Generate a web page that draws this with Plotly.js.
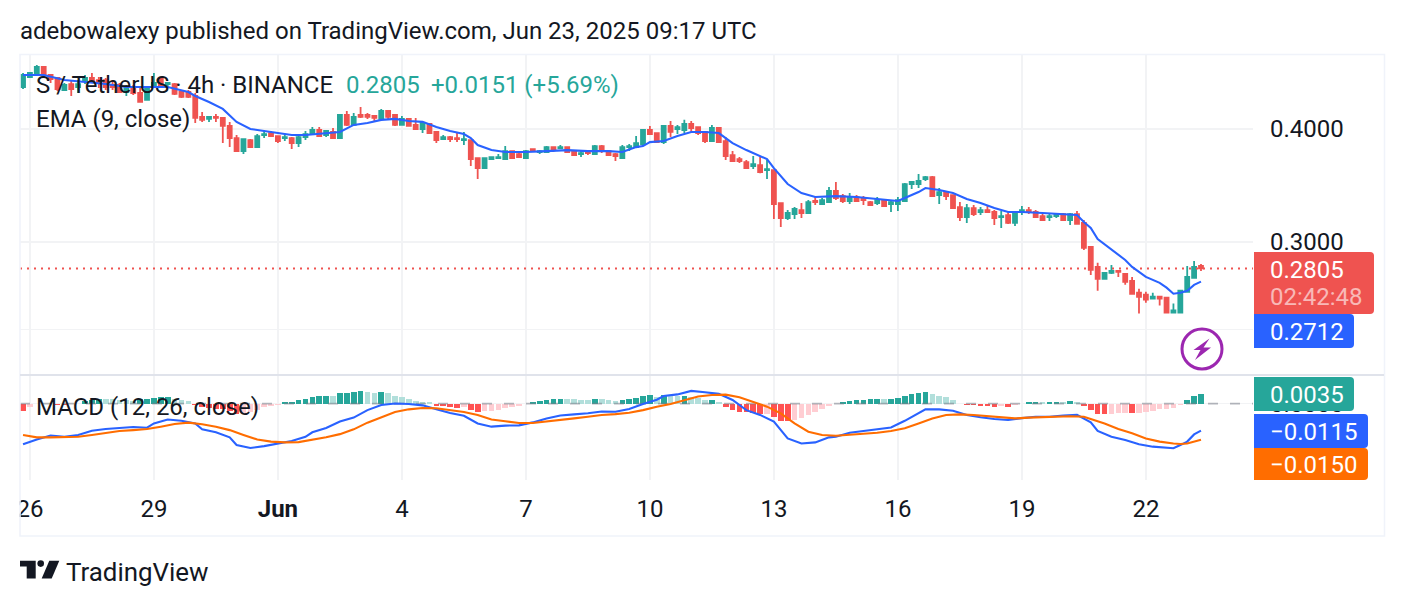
<!DOCTYPE html>
<html>
<head>
<meta charset="utf-8">
<script src="https://cdn.plot.ly/plotly-3.0.1.min.js"></script>
<style>html,body{margin:0;padding:0;background:#fff}#chart{width:1404px;height:606px}</style>
</head>
<body>
<div id="chart"></div>
<script>
const open = [.4451,.4566,.4601,.4684,.4590,.4555,.4417,.4485,.4451,.4520,.4555,.4531,.4531,.4474,.4474,.4395,.4451,.4384,.4307,.4463,.4543,.4485,.4485,.4395,.4395,.4351,.4125,.4104,.4125,.4114,.4031,.3909,.3781,.3889,.3820,.3939,.3959,.3929,.3909,.3909,.3859,.3919,.3949,.3990,.3939,.3970,.3909,.4146,.4042,.4146,.4146,.4135,.4104,.4188,.4146,.4042,.4104,.4042,.4000,.4052,.3970,.3899,.3919,.3909,.3889,.3889,.3715,.3621,.3705,.3715,.3705,.3781,.3753,.3715,.3801,.3772,.3772,.3820,.3810,.3820,.3781,.3753,.3781,.3753,.3830,.3781,.3753,.3715,.3820,.3820,.3850,.3990,.3959,.3869,.4031,.4000,.3990,.4052,.4020,.3970,.3879,.4010,.3879,.3743,.3705,.3677,.3640,.3649,.3603,.3603,.3313,.3189,.3221,.3254,.3230,.3330,.3304,.3321,.3416,.3372,.3330,.3364,.3355,.3321,.3313,.3330,.3304,.3304,.3330,.3477,.3477,.3521,.3539,.3381,.3407,.3381,.3279,.3197,.3271,.3238,.3254,.3238,.3197,.3213,.3149,.3238,.3254,.3238,.3205,.3197,.3205,.3221,.3173,.3221,.3149,.2962,.2816,.2731,.2773,.2787,.2766,.2717,.2637,.2624,.2597,.2610,.2604,.2507,.2507,.2643,.2738,.2823];
const high = [.4613,.4625,.4708,.4684,.4601,.4566,.4497,.4531,.4531,.4590,.4613,.4566,.4555,.4531,.4497,.4474,.4474,.4440,.4463,.4613,.4555,.4508,.4497,.4417,.4417,.4384,.4177,.4135,.4156,.4125,.4073,.3939,.3899,.3899,.3949,.3980,.3980,.3929,.3939,.3919,.3929,.3980,.4020,.4020,.3990,.4010,.4156,.4188,.4167,.4231,.4167,.4146,.4210,.4188,.4146,.4135,.4114,.4114,.4073,.4062,.3970,.3939,.3929,.3959,.3970,.3889,.3715,.3715,.3724,.3753,.3830,.3781,.3772,.3791,.3801,.3791,.3830,.3820,.3840,.3820,.3781,.3781,.3781,.3840,.3840,.3791,.3762,.3840,.3850,.3929,.4000,.4031,.3959,.4031,.4083,.4042,.4094,.4083,.4020,.3980,.4042,.4020,.3919,.3781,.3724,.3696,.3734,.3724,.3696,.3603,.3313,.3254,.3279,.3313,.3338,.3372,.3355,.3450,.3495,.3390,.3398,.3381,.3372,.3330,.3364,.3347,.3338,.3364,.3486,.3504,.3566,.3548,.3548,.3442,.3407,.3381,.3321,.3304,.3296,.3279,.3296,.3254,.3246,.3238,.3238,.3288,.3279,.3254,.3221,.3230,.3230,.3230,.3230,.3246,.3173,.2970,.2845,.2780,.2830,.2787,.2773,.2745,.2664,.2643,.2637,.2617,.2610,.2565,.2657,.2823,.2858,.2837];
const low = [.4429,.4555,.4590,.4566,.4497,.4406,.4406,.4351,.4384,.4485,.4497,.4440,.4417,.4417,.4384,.4351,.4362,.4285,.4307,.4440,.4440,.4440,.4362,.4329,.4329,.4062,.4073,.4073,.4073,.3859,.3820,.3781,.3753,.3810,.3820,.3909,.3919,.3859,.3879,.3801,.3820,.3889,.3939,.3919,.3919,.3899,.3909,.4031,.4031,.4114,.4104,.4083,.4104,.4104,.4031,.4042,.4031,.4000,.3959,.3959,.3859,.3889,.3869,.3869,.3840,.3640,.3521,.3612,.3705,.3715,.3705,.3705,.3715,.3715,.3781,.3753,.3772,.3772,.3810,.3772,.3743,.3724,.3743,.3753,.3762,.3734,.3686,.3715,.3781,.3820,.3850,.3939,.3869,.3850,.3919,.3949,.3959,.3970,.3939,.3859,.3879,.3869,.3696,.3686,.3668,.3612,.3612,.3575,.3521,.3181,.3117,.3173,.3181,.3189,.3230,.3296,.3304,.3321,.3338,.3313,.3304,.3330,.3296,.3288,.3296,.3279,.3238,.3246,.3330,.3433,.3442,.3504,.3372,.3304,.3338,.3263,.3165,.3149,.3205,.3213,.3230,.3133,.3109,.3141,.3125,.3213,.3221,.3197,.3173,.3165,.3189,.3165,.3133,.3141,.2940,.2759,.2650,.2731,.2766,.2745,.2690,.2630,.2501,.2571,.2591,.2552,.2501,.2507,.2507,.2643,.2738,.2787];
const close = [.4590,.4613,.4684,.4590,.4543,.4429,.4474,.4429,.4485,.4555,.4531,.4497,.4451,.4451,.4395,.4451,.4384,.4285,.4451,.4497,.4463,.4497,.4373,.4340,.4340,.4114,.4094,.4125,.4114,.4031,.3909,.3781,.3899,.3820,.3929,.3949,.3929,.3879,.3919,.3859,.3919,.3949,.3990,.3929,.3980,.3909,.4146,.4042,.4125,.4125,.4125,.4114,.4188,.4125,.4042,.4104,.4031,.4000,.4062,.3959,.3889,.3919,.3899,.3899,.3899,.3705,.3621,.3715,.3724,.3724,.3781,.3715,.3724,.3781,.3781,.3781,.3820,.3801,.3820,.3772,.3743,.3762,.3762,.3830,.3781,.3743,.3734,.3820,.3830,.3859,.3990,.3949,.3869,.4031,.3970,.4020,.4052,.4010,.3959,.3879,.4010,.3869,.3734,.3686,.3686,.3621,.3658,.3585,.3612,.3304,.3189,.3230,.3263,.3230,.3321,.3321,.3338,.3416,.3355,.3330,.3364,.3330,.3338,.3296,.3338,.3288,.3321,.3338,.3477,.3495,.3504,.3539,.3372,.3407,.3372,.3271,.3197,.3271,.3221,.3254,.3238,.3189,.3205,.3149,.3238,.3254,.3238,.3197,.3173,.3205,.3221,.3173,.3221,.3141,.2955,.2794,.2731,.2773,.2787,.2780,.2710,.2630,.2610,.2591,.2610,.2597,.2507,.2520,.2650,.2745,.2816,.2805];

const emaBars = [0,3,6,9,12,15,18,21,24,25,27,29,31,33,35,37,39,41,43,45,46,48,50,52,54,56,58,60,62,64,65,66,68,70,73,76,79,82,85,87,89,90,91,93,95,97,99,101,103,105,108,109,111,113,115,118,121,124,127,128,130,131,133,135,137,139,141,143,145,148,151,153,154,155,156,158,160,161,163,165,166,167,168,169,170,171];
const emaValues = [.4590,.4590,.4531,.4508,.4485,.4451,.4451,.4451,.4395,.4351,.4285,.4210,.4073,.4000,.3980,.3959,.3939,.3939,.3949,.3959,.3970,.4042,.4062,.4094,.4104,.4083,.4073,.4020,.3980,.3949,.3909,.3840,.3791,.3772,.3772,.3781,.3791,.3781,.3781,.3772,.3820,.3830,.3869,.3879,.3929,.3970,.3970,.3959,.3859,.3791,.3705,.3621,.3477,.3398,.3364,.3372,.3364,.3347,.3330,.3355,.3407,.3442,.3424,.3398,.3347,.3313,.3271,.3238,.3238,.3230,.3221,.3213,.3157,.3109,.3023,.2940,.2866,.2816,.2745,.2704,.2671,.2630,.2637,.2650,.2690,.2712];

const macdBars = [0,2,4,6,8,10,12,14,16,18,19,21,23,25,26,28,30,31,33,35,37,39,41,42,44,46,48,50,52,54,56,58,60,62,64,66,68,70,72,74,76,78,80,82,84,86,88,90,92,93,95,97,99,101,103,105,107,109,111,113,115,117,118,120,122,124,126,128,130,131,133,135,137,139,141,143,145,147,149,151,153,155,156,158,160,162,164,166,167,168,169,170,171];
const macdValues = [-.0166,-.0148,-.0133,-.0138,-.0131,-.0115,-.0109,-.0105,-.0101,-.0104,-.0088,-.0073,-.0078,-.0088,-.0110,-.0121,-.0140,-.0169,-.0180,-.0173,-.0163,-.0154,-.0138,-.0121,-.0105,-.0081,-.0066,-.0038,-.0019,-.0013,-.0015,-.0020,-.0035,-.0049,-.0059,-.0088,-.0100,-.0096,-.0095,-.0084,-.0069,-.0058,-.0054,-.0050,-.0043,-.0044,-.0034,-.0015,.0001,.0015,.0021,.0034,.0029,.0023,0,-.0038,-.0056,-.0081,-.0144,-.0163,-.0159,-.0140,-.0138,-.0123,-.0116,-.0110,-.0103,-.0078,-.0050,-.0035,-.0035,-.0040,-.0056,-.0065,-.0071,-.0075,-.0068,-.0063,-.0063,-.0058,-.0056,-.0084,-.0116,-.0138,-.0150,-.0166,-.0175,-.0178,-.0181,-.0169,-.0156,-.0129,-.0115];

const signalBars = [0,2,4,6,8,10,12,14,16,18,20,22,24,26,28,30,32,34,36,38,40,42,44,46,48,50,52,54,56,58,60,62,64,66,68,70,72,74,76,78,80,82,84,86,88,90,92,94,96,98,100,102,104,106,108,110,112,114,116,118,120,122,124,126,128,130,132,134,136,138,140,142,144,146,148,150,152,154,155,157,159,161,163,165,167,168,169,170,171];
const signalValues = [-.0131,-.0140,-.0140,-.0140,-.0138,-.0131,-.0123,-.0116,-.0113,-.0109,-.0100,-.0090,-.0085,-.0091,-.0100,-.0113,-.0131,-.0148,-.0156,-.0159,-.0158,-.0150,-.0140,-.0128,-.0110,-.0085,-.0065,-.0045,-.0035,-.0030,-.0031,-.0038,-.0045,-.0056,-.0073,-.0080,-.0086,-.0086,-.0081,-.0075,-.0069,-.0063,-.0056,-.0053,-.0048,-.0038,-.0025,-.0015,0,.0013,.0019,.0020,.0010,-.0008,-.0025,-.0050,-.0088,-.0119,-.0131,-.0134,-.0131,-.0128,-.0123,-.0116,-.0106,-.0088,-.0069,-.0056,-.0054,-.0056,-.0060,-.0066,-.0069,-.0066,-.0065,-.0063,-.0061,-.0063,-.0071,-.0088,-.0109,-.0125,-.0144,-.0156,-.0163,-.0165,-.0163,-.0156,-.0149];

const histValues = [-.00248,-.00130,-.00024,-.00012,-.00006,-.00035,-.00047,-.00024,-.00012,.00106,
.00142,.00177,.00165,.00153,.00130,.00118,.00106,.00153,.00177,.00189,
.00224,.00248,.00153,.00142,.00094,-.00035,-.00130,-.00165,-.00177,-.00201,
-.00248,-.00378,-.00366,-.00283,-.00224,-.00130,-.00083,-.00047,.00047,.00071,
.00142,.00165,.00224,.00260,.00283,.00271,.00366,.00378,.00413,.00448,
.00413,.00389,.00413,.00366,.00283,.00248,.00165,.00094,.00071,.00047,
-.00083,-.00094,-.00118,-.00153,-.00106,-.00236,-.00283,-.00271,-.00260,-.00224,
-.00142,-.00106,-.00071,-.00024,.00059,.00094,.00130,.00165,.00177,.00165,
.00153,.00130,.00118,.00165,.00153,.00130,.00094,.00130,.00165,.00201,
.00271,.00307,.00236,.00295,.00271,.00260,.00283,.00224,.00212,.00130,
.00142,.00059,-.00106,-.00224,-.00283,-.00295,-.00342,-.00366,-.00354,-.00460,
-.00602,-.00614,-.00578,-.00496,-.00389,-.00283,-.00189,-.00083,0,.00059,
.00094,.00130,.00142,.00153,.00165,.00153,.00177,.00201,.00271,.00342,
.00378,.00413,.00342,.00271,.00236,.00130,-.00024,-.00047,-.00059,-.00083,
-.00094,-.00106,-.00083,-.00106,-.00047,-.00024,.00059,.00071,.00047,.00059,
.00071,.00047,.00094,.00059,-.00083,-.00224,-.00366,-.00378,-.00366,-.00330,
-.00319,-.00330,-.00319,-.00295,-.00260,-.00189,-.00177,-.00165,-.00047,.00130,
.00271,.00350];

const tickBars = [1,19,37,55,73,91,109,127,145,163];
const tickLabels = ['26','29','<b>Jun</b>','4','7','10','13','16','19','22'];
const priceTicks = [0.24,0.3,0.4];
const priceTickLabels = ['0.2400','0.3000','0.4000'];
const lastPrice = 0.2805;

const W = 1404, H = 606;
const px = x => x / W, py = y => 1 - y / H;
const F = 'Roboto, sans-serif', FS = 24, INK = '#131722';
const bars = open.map((_, i) => i);
const xRange = [-0.44, 178.55];

const histColors = histValues.map((v, i) => {
  const p = i ? histValues[i - 1] : 0;
  if (v >= 0) return v > p ? '#26a69a' : '#b2dfdb';
  return v < p ? '#ff5252' : '#ffcdd2';
});

const traces = [
  {type:'candlestick', x:bars, open, high, low, close, xaxis:'x', yaxis:'y',
   increasing:{line:{color:'#26a69a',width:1.8},fillcolor:'#26a69a'},
   decreasing:{line:{color:'#ef5350',width:1.8},fillcolor:'#ef5350'},
   whiskerwidth:0, hoverinfo:'skip', showlegend:false},
  {type:'scatter', mode:'lines', x:xRange, y:[lastPrice,lastPrice], xaxis:'x', yaxis:'y',
   line:{color:'#ef5350',width:2,dash:'2px,5px'}, hoverinfo:'skip', showlegend:false},
  {type:'scatter', mode:'lines', x:emaBars, y:emaValues, xaxis:'x', yaxis:'y',
   line:{color:'#2962ff',width:2.1}, hoverinfo:'skip', showlegend:false},
  {type:'bar', x:bars, y:histValues, xaxis:'x2', yaxis:'y2', width:0.82,
   marker:{color:histColors,line:{width:0}}, hoverinfo:'skip', showlegend:false},
  {type:'scatter', mode:'lines', x:xRange, y:[0,0], xaxis:'x2', yaxis:'y2',
   line:{color:'rgba(120,123,134,0.55)',width:1.6,dash:'10px,12px'}, hoverinfo:'skip', showlegend:false},
  {type:'scatter', mode:'lines', x:macdBars, y:macdValues, xaxis:'x2', yaxis:'y3',
   line:{color:'#2962ff',width:2.1}, hoverinfo:'skip', showlegend:false},
  {type:'scatter', mode:'lines', x:signalBars, y:signalValues, xaxis:'x2', yaxis:'y3',
   line:{color:'#ff6d00',width:2.1}, hoverinfo:'skip', showlegend:false}
];

function roundedBox(x0, y0, x1, y1, color) {
  const r = 4;
  const p = (x, y) => `${px(x)},${py(y)}`;
  return {type:'path', xref:'paper', yref:'paper', layer:'above', fillcolor:color, line:{width:0},
    path:`M${p(x0,y0)} L${p(x1-r,y0)} Q${p(x1,y0)} ${p(x1,y0+r)} L${p(x1,y1-r)} Q${p(x1,y1)} ${p(x1-r,y1)} L${p(x0,y1)} Z`};
}
function poly(points, color) {
  return {type:'path', xref:'paper', yref:'paper', layer:'above', fillcolor:color, line:{width:0},
    path:'M' + points.map(q => `${px(q[0])},${py(q[1])}`).join(' L') + ' Z'};
}
function rect(x0, y0, x1, y1, fill, lineColor, lw) {
  return {type:'rect', xref:'paper', yref:'paper', layer:'above', x0:px(x0), x1:px(x1), y0:py(y0), y1:py(y1),
    fillcolor:fill, line:{color:lineColor, width:lw}};
}
function circle(cx, cy, r, fill, lineColor, lw) {
  return {type:'circle', xref:'paper', yref:'paper', layer:'above', x0:px(cx-r), x1:px(cx+r), y0:py(cy-r), y1:py(cy+r),
    fillcolor:fill, line:{color:lineColor, width:lw}};
}
function label(x, y, text, color, size, anchor) {
  return {xref:'paper', yref:'paper', x:px(x), y:py(y), text, showarrow:false, xanchor:anchor || 'left', yanchor:'middle',
    align:'left', font:{family:F, size:size || FS, color:color || INK}, borderpad:0, borderwidth:0};
}

const shapes = [
  rect(0, 484, 19.5, 530, '#ffffff', 'rgba(0,0,0,0)', 0),
  rect(20, 54.5, 1384.5, 536, 'rgba(0,0,0,0)', '#f0f3fa', 1.6),
  {type:'line', xref:'paper', yref:'paper', layer:'above', x0:px(20), x1:px(1384), y0:py(375), y1:py(375), line:{color:'#e0e3eb', width:2}},
  roundedBox(1254, 252, 1374, 314, '#ef5350'),
  roundedBox(1254, 314, 1354, 348, '#2962ff'),
  roundedBox(1254, 377, 1354, 411, '#26a69a'),
  roundedBox(1254, 414, 1368, 448, '#2962ff'),
  roundedBox(1254, 448, 1368, 480, '#ff6d00'),
  circle(1202, 349, 20, 'rgba(0,0,0,0)', '#9c27b0', 3),
  poly([[1209.5,338.5],[1193.5,350],[1200.5,350],[1195,360],[1211,347.5],[1203.5,347.5]], '#9c27b0'),
  poly([[20,560.7],[35.7,560.7],[35.7,578.5],[26.7,578.5],[26.7,566.5],[20,566.5]], '#131722'),
  circle(40.7, 563.6, 3.3, '#131722', '#131722', 0),
  poly([[49.3,560.7],[59.3,560.7],[51.7,578.5],[41.7,578.5]], '#131722')
];

const annotations = [
  label(20, 31, 'adebowalexy published on TradingView.com, Jun 23, 2025 09:17 UTC', INK),
  label(36, 85, 'S / TetherUS · 4h · BINANCE', INK),
  label(346, 85, '0.2805', '#26a69a'),
  label(431, 85, '+0.0151 (+5.69%)', '#26a69a'),
  label(36, 119, 'EMA (9, close)', INK),
  label(36, 407, 'MACD (12, 26, close)', INK),
  label(1270, 270, '0.2805', '#ffffff'),
  label(1270, 297, '02:42:48', 'rgba(255,255,255,0.6)'),
  label(1270, 332, '0.2712', '#ffffff'),
  label(1270, 395, '0.0035', '#ffffff'),
  label(1270, 432, '−0.0115', '#ffffff'),
  label(1270, 465, '−0.0150', '#ffffff'),
  label(66, 572, 'TradingView', INK, 25.9)
];

const xBase = {range:xRange, domain:[px(20), px(1253)], tickmode:'array', tickvals:tickBars, ticktext:tickLabels,
  showgrid:true, gridcolor:'#f2f3f5', gridwidth:1.6, zeroline:false, showline:false, ticks:'', fixedrange:true};

const layout = {
  width:W, height:H, margin:{l:0,r:0,t:0,b:0}, paper_bgcolor:'#ffffff', plot_bgcolor:'#ffffff',
  showlegend:false, boxgap:0.42, boxgroupgap:0, bargap:0, dragmode:false, hovermode:false,
  font:{family:F, size:FS, color:INK},
  xaxis:Object.assign({}, xBase, {anchor:'y', showticklabels:false, rangeslider:{visible:false}}),
  xaxis2:Object.assign({}, xBase, {anchor:'y2', showticklabels:true, tickfont:{family:F,size:FS,color:INK}, ticklabelstandoff:12, ticklen:0}),
  yaxis:{type:'log', range:[Math.log10(0.21385), Math.log10(0.48414)], domain:[py(375), py(54)], side:'right', anchor:'x',
    tickmode:'array', tickvals:priceTicks, ticktext:priceTickLabels, tickfont:{family:F,size:FS,color:INK}, ticklabelstandoff:16,
    showgrid:true, gridcolor:'#f2f3f5', gridwidth:1.6, zeroline:false, showline:false, ticks:'', fixedrange:true},
  yaxis2:{range:[-0.02694, 0.009766], domain:[py(480), py(376)], side:'right', anchor:'x2',
    tickmode:'array', tickvals:[0], ticktext:['0.0000'], tickfont:{family:F,size:FS,color:INK}, ticklabelstandoff:16,
    showgrid:true, gridcolor:'#f2f3f5', gridwidth:1.6, zeroline:false, showline:false, ticks:'', fixedrange:true},
  yaxis3:{range:[-0.03, 0.009], domain:[py(480), py(376)], overlaying:'y2', side:'right', anchor:'x2',
    showticklabels:false, showgrid:false, zeroline:false, showline:false, ticks:'', fixedrange:true},
  shapes, annotations
};

Plotly.newPlot('chart', traces, layout, {displayModeBar:false, staticPlot:true, responsive:false});
</script>
</body>
</html>
